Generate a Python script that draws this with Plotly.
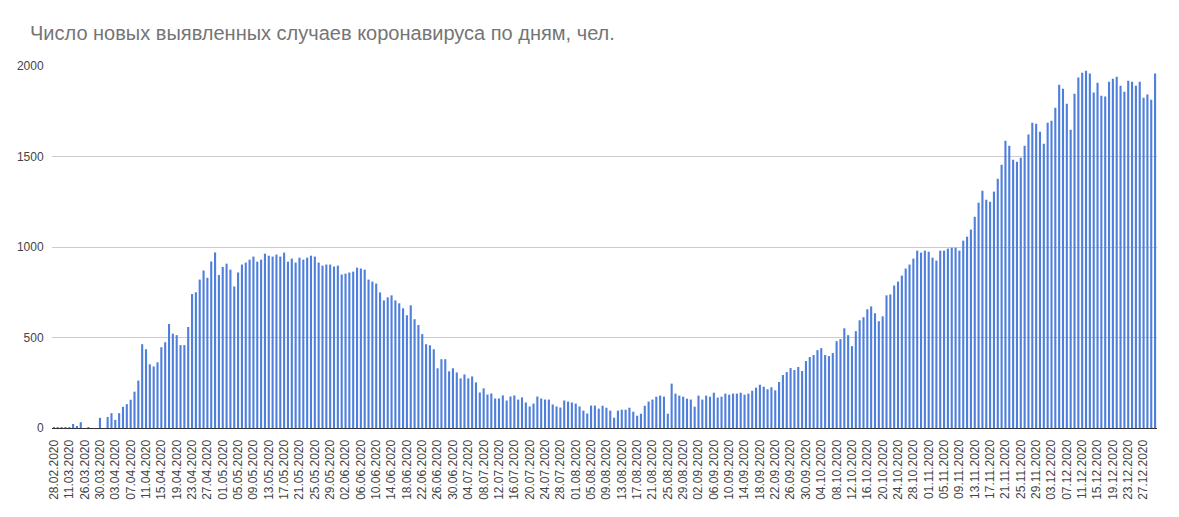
import pandas as pd
import plotly.graph_objects as go

# Category labels: a few irregular early dates, then daily from 26.03.2020
early_dates = ["28.02.2020", "03.03.2020", "06.03.2020", "09.03.2020",
               "11.03.2020", "15.03.2020", "19.03.2020", "23.03.2020"]
daily_dates = [d.strftime("%d.%m.%Y") for d in pd.date_range("2020-03-26", "2020-12-30", freq="D")]
dates = early_dates + daily_dates

cases_spring = [1, 1, 2, 1, 3, 22, 11, 32, 0, 5, 0, 0, 56, 0, 61, 82, 45, 82, 117, 132,
                156, 201, 262, 463, 435, 352, 340, 363, 446, 474, 575, 521, 513, 458, 458, 558,
                740, 750, 820, 870, 830, 920, 970, 845, 890, 908, 875, 782, 859, 903,
                914, 930, 947, 919, 930, 963, 952, 947, 958, 947, 969, 919, 936, 914,
                941, 930, 941, 952, 947, 914, 897, 903, 903, 892, 897, 848, 853, 859,
                864, 886, 881, 875, 820, 809, 798, 749, 705, 722, 733, 705, 689, 661,
                623, 678, 601]
cases_summer = [569, 519, 463, 457, 435, 330, 380, 380, 313, 330, 307, 274, 296, 274,
                285, 252, 196, 219, 185, 191, 163, 163, 180, 152, 174, 180, 157, 169,
                141, 119, 135, 174, 163, 157, 157, 130, 119, 113, 152, 146, 141, 135,
                119, 96, 80, 124, 124, 107, 123, 112, 96, 57, 96, 101, 101, 112, 90,
                68, 79, 123, 146, 157, 173, 179, 173, 79, 245, 190, 179, 173, 162, 157,
                118, 179, 157, 179, 173, 195, 168, 173, 190, 184, 190, 190, 195, 184,
                190, 206, 223, 239, 228]
cases_autumn = [214, 225, 208, 254, 293, 309, 331, 320, 337, 315, 370, 392, 403, 430,
                441, 403, 397, 414, 480, 491, 551, 513, 452, 535, 595, 612, 656, 672,
                634, 590, 617, 733, 738, 787, 809, 842, 881, 903, 936, 980, 969, 980,
                974, 941, 925, 980, 980, 991, 996, 996, 980]
cases_winter = [1035, 1057, 1096, 1167, 1245, 1311, 1261, 1250, 1306, 1377, 1455, 1587,
                1560, 1482, 1471, 1493, 1560, 1621, 1687, 1681, 1637, 1571, 1687, 1698,
                1770, 1897, 1875, 1792, 1648, 1847, 1936, 1963, 1974, 1958, 1853, 1908,
                1836, 1831, 1913, 1930, 1941, 1891, 1858, 1919, 1913, 1891, 1913, 1825,
                1842, 1814, 1958]
cases = cases_spring + cases_summer + cases_autumn + cases_winter

y_ticks = [0, 500, 1000, 1500, 2000]
tick_labels = dates[::4]

n = min(len(dates), len(cases))
dates = dates[:n]
cases = cases[:n]

fig = go.Figure(go.Bar(x=dates, y=cases, marker_color="#4f7fdd", marker_line_width=0))

fig.update_layout(
    width=1179, height=517,
    margin=dict(l=52, r=22, t=66, b=89),
    paper_bgcolor="white", plot_bgcolor="white",
    bargap=0.45,
    showlegend=False,
    font=dict(family="Arial, Liberation Sans, sans-serif", size=12, color="#444444"),
    title=dict(text="Число новых выявленных случаев коронавируса по дням, чел.",
               x=30 / 1179, xanchor="left", xref="container",
               y=1 - 33 / 517, yanchor="middle", yref="container",
               font=dict(family="Arial, Liberation Sans, sans-serif", size=20, color="#757575")),
)
fig.update_xaxes(type="category", tickmode="array", tickvals=tick_labels, ticktext=tick_labels,
                 tickangle=-90, showgrid=False, showline=True, linecolor="#333333", linewidth=1,
                 ticks="outside", ticklen=6, tickcolor="rgba(0,0,0,0)",
                 tickfont=dict(size=12, color="#444444"))
fig.update_yaxes(range=[0, 2000], tickvals=y_ticks, showgrid=True, gridcolor="#cccccc",
                 zeroline=False, showline=False,
                 ticks="outside", ticklen=5, tickcolor="rgba(0,0,0,0)",
                 tickfont=dict(size=12, color="#444444"))

fig.write_html("out.html")
